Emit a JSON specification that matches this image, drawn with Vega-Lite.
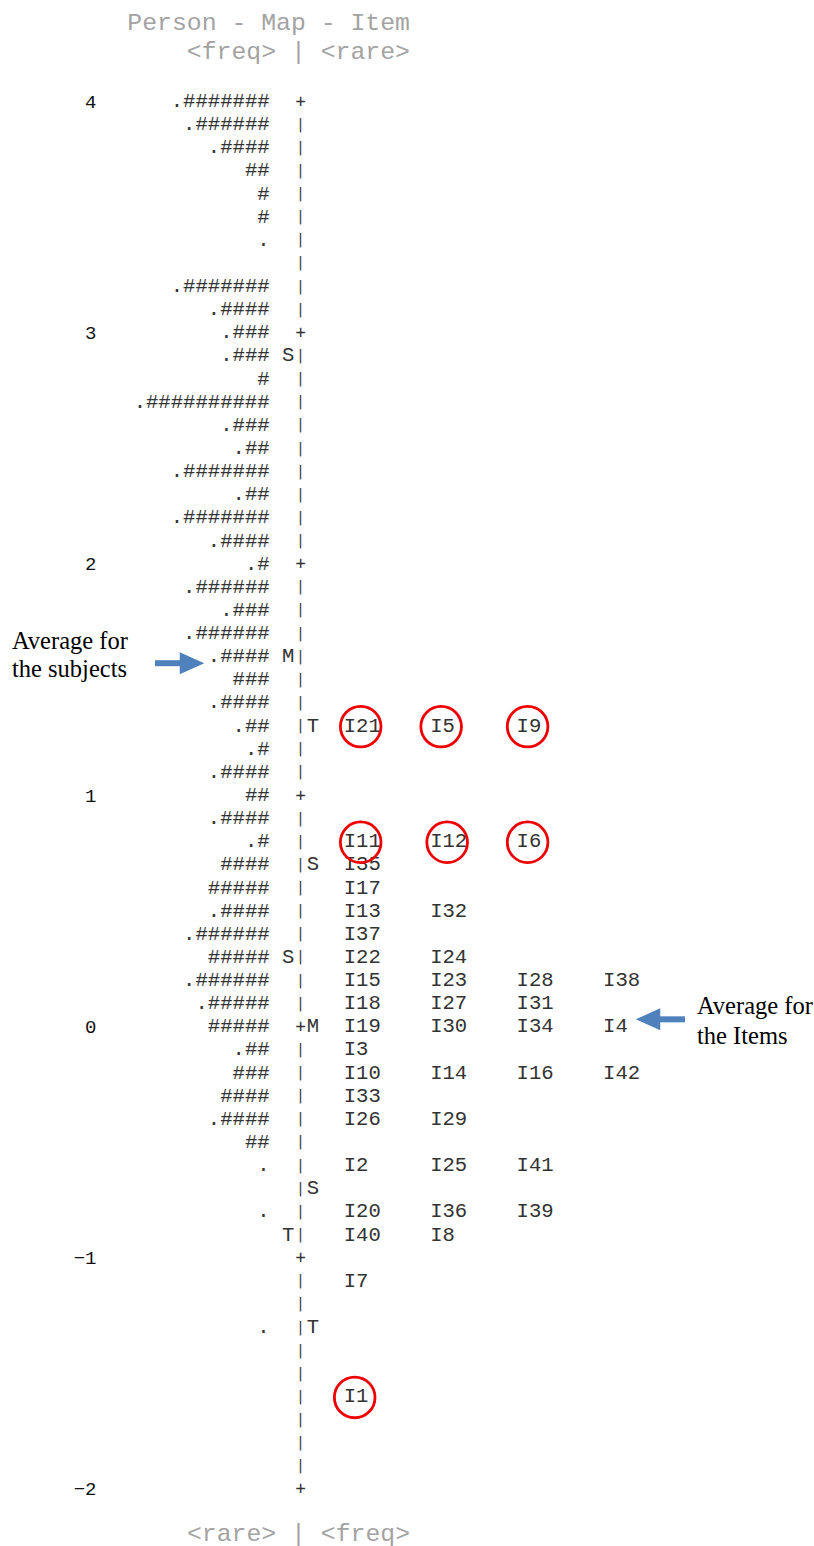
{
  "$schema": "https://vega.github.io/schema/vega-lite/v6.json",
  "width": 814,
  "height": 1430,
  "autosize": {"type": "none"},
  "padding": {"left": 0, "right": 0, "top": 80, "bottom": 36},
  "background": "white",
  "config": {
    "view": {"stroke": null},
    "axisX": {"domain": false, "ticks": false, "labels": false, "grid": false, "titleFont": "Liberation Mono", "titleFontSize": 24.8, "titleFontWeight": "normal", "titleColor": "#a3a3a3", "titleX": 298, "titleY": 23, "titleAlign": "center", "titleBaseline": "middle"}
  },
  "title": {"text": "Person - Map - Item", "subtitle": "<freq> | <rare>", "anchor": "end", "frame": "group", "dx": -404, "offset": 16, "font": "Liberation Mono", "fontSize": 24.8, "fontWeight": "normal", "color": "#a3a3a3", "subtitleFont": "Liberation Mono", "subtitleFontSize": 24.8, "subtitleColor": "#a3a3a3", "subtitlePadding": 4},
  "datasets": {
    "persons": [
      {"m": 4, "p": ".#######"}, {"m": 3.9, "p": ".######"}, {"m": 3.8, "p": ".####"}, {"m": 3.7, "p": "##"}, {"m": 3.6, "p": "#"}, {"m": 3.5, "p": "#"}, {"m": 3.4, "p": "."},
      {"m": 3.2, "p": ".#######"}, {"m": 3.1, "p": ".####"}, {"m": 3, "p": ".###"}, {"m": 2.9, "p": ".###"}, {"m": 2.8, "p": "#"}, {"m": 2.7, "p": ".##########"}, {"m": 2.6, "p": ".###"}, {"m": 2.5, "p": ".##"}, {"m": 2.4, "p": ".#######"}, {"m": 2.3, "p": ".##"}, {"m": 2.2, "p": ".#######"}, {"m": 2.1, "p": ".####"},
      {"m": 2, "p": ".#"}, {"m": 1.9, "p": ".######"}, {"m": 1.8, "p": ".###"}, {"m": 1.7, "p": ".######"}, {"m": 1.6, "p": ".####"}, {"m": 1.5, "p": "###"}, {"m": 1.4, "p": ".####"}, {"m": 1.3, "p": ".##"}, {"m": 1.2, "p": ".#"}, {"m": 1.1, "p": ".####"},
      {"m": 1, "p": "##"}, {"m": 0.9, "p": ".####"}, {"m": 0.8, "p": ".#"}, {"m": 0.7, "p": "####"}, {"m": 0.6, "p": "#####"}, {"m": 0.5, "p": ".####"}, {"m": 0.4, "p": ".######"}, {"m": 0.3, "p": "#####"}, {"m": 0.2, "p": ".######"}, {"m": 0.1, "p": ".#####"},
      {"m": 0, "p": "#####"}, {"m": -0.1, "p": ".##"}, {"m": -0.2, "p": "###"}, {"m": -0.3, "p": "####"}, {"m": -0.4, "p": ".####"}, {"m": -0.5, "p": "##"}, {"m": -0.6, "p": "."}, {"m": -0.8, "p": "."}, {"m": -1.3, "p": "."}
    ],
    "markers": [
      {"m": 2.9, "side": "L", "g": "S"}, {"m": 1.6, "side": "L", "g": "M"}, {"m": 1.3, "side": "R", "g": "T"}, {"m": 0.7, "side": "R", "g": "S"}, {"m": 0.3, "side": "L", "g": "S"},
      {"m": 0, "side": "R", "g": "M"}, {"m": -0.7, "side": "R", "g": "S"}, {"m": -0.9, "side": "L", "g": "T"}, {"m": -1.3, "side": "R", "g": "T"}
    ],
    "items": [
      {"m": 1.3, "slot": 0, "label": "I21", "circled": true}, {"m": 1.3, "slot": 1, "label": "I5", "circled": true}, {"m": 1.3, "slot": 2, "label": "I9", "circled": true},
      {"m": 0.8, "slot": 0, "label": "I11", "circled": true}, {"m": 0.8, "slot": 1, "label": "I12", "circled": true}, {"m": 0.8, "slot": 2, "label": "I6", "circled": true},
      {"m": 0.7, "slot": 0, "label": "I35"},
      {"m": 0.6, "slot": 0, "label": "I17"},
      {"m": 0.5, "slot": 0, "label": "I13"}, {"m": 0.5, "slot": 1, "label": "I32"},
      {"m": 0.4, "slot": 0, "label": "I37"},
      {"m": 0.3, "slot": 0, "label": "I22"}, {"m": 0.3, "slot": 1, "label": "I24"},
      {"m": 0.2, "slot": 0, "label": "I15"}, {"m": 0.2, "slot": 1, "label": "I23"}, {"m": 0.2, "slot": 2, "label": "I28"}, {"m": 0.2, "slot": 3, "label": "I38"},
      {"m": 0.1, "slot": 0, "label": "I18"}, {"m": 0.1, "slot": 1, "label": "I27"}, {"m": 0.1, "slot": 2, "label": "I31"},
      {"m": 0, "slot": 0, "label": "I19"}, {"m": 0, "slot": 1, "label": "I30"}, {"m": 0, "slot": 2, "label": "I34"}, {"m": 0, "slot": 3, "label": "I4"},
      {"m": -0.1, "slot": 0, "label": "I3"},
      {"m": -0.2, "slot": 0, "label": "I10"}, {"m": -0.2, "slot": 1, "label": "I14"}, {"m": -0.2, "slot": 2, "label": "I16"}, {"m": -0.2, "slot": 3, "label": "I42"},
      {"m": -0.3, "slot": 0, "label": "I33"},
      {"m": -0.4, "slot": 0, "label": "I26"}, {"m": -0.4, "slot": 1, "label": "I29"},
      {"m": -0.6, "slot": 0, "label": "I2"}, {"m": -0.6, "slot": 1, "label": "I25"}, {"m": -0.6, "slot": 2, "label": "I41"},
      {"m": -0.8, "slot": 0, "label": "I20"}, {"m": -0.8, "slot": 1, "label": "I36"}, {"m": -0.8, "slot": 2, "label": "I39"},
      {"m": -0.9, "slot": 0, "label": "I40"}, {"m": -0.9, "slot": 1, "label": "I8"},
      {"m": -1.1, "slot": 0, "label": "I7"},
      {"m": -1.6, "slot": 0, "label": "I1", "circled": true}
    ],
    "notes": [
      {"m": 1.6, "who": "persons", "note": "Average for\nthe subjects"},
      {"m": 0, "who": "items", "note": "Average for\nthe Items"}
    ]
  },
  "resolve": {"axis": {"y": "independent"}},
  "layer": [
    {
      "encoding": {
        "y": {"field": "m", "type": "quantitative", "title": null, "scale": {"domain": [-2.0908, 4.0908], "nice": false, "zero": false},
              "axis": {"orient": "left", "offset": -96, "values": [-2, -1, 0, 1, 2, 3, 4], "domain": false, "ticks": false, "tickSize": 0, "grid": false, "labelPadding": 0, "labelFont": "Liberation Mono", "labelFontSize": 19, "labelColor": "#111111", "labelBaseline": "middle", "labelOverlap": false, "labelBound": false, "labelFlush": false}}
      },
      "layer": [
        {
          "data": {"name": "persons"},
          "mark": {"type": "text", "align": "right", "baseline": "middle", "font": "Liberation Mono", "fontSize": 20.6, "color": "#333333"},
          "encoding": {
            "x": {"datum": -0.8571, "type": "quantitative", "title": "<rare> | <freq>", "scale": {"domain": [-3.9757, 5.4402], "nice": false, "zero": false}},
            "text": {"field": "p", "type": "nominal"}
          }
        },
        {
          "data": {"name": "markers"},
          "transform": [{"filter": "datum.side === 'L'"}],
          "mark": {"type": "text", "align": "center", "baseline": "middle", "font": "Liberation Mono", "fontSize": 20.6, "color": "#333333"},
          "encoding": {
            "x": {"datum": -0.6426, "type": "quantitative", "title": "<rare> | <freq>", "scale": {"domain": [-3.9757, 5.4402], "nice": false, "zero": false}},
            "text": {"field": "g", "type": "nominal"}
          }
        },
        {
          "data": {"name": "markers"},
          "transform": [{"filter": "datum.side === 'R'"}],
          "mark": {"type": "text", "align": "center", "baseline": "middle", "font": "Liberation Mono", "fontSize": 20.6, "color": "#333333"},
          "encoding": {
            "x": {"datum": -0.3569, "type": "quantitative", "title": "<rare> | <freq>", "scale": {"domain": [-3.9757, 5.4402], "nice": false, "zero": false}},
            "text": {"field": "g", "type": "nominal"}
          }
        },
        {
          "data": {"name": "items"},
          "mark": {"type": "text", "align": "left", "baseline": "middle", "font": "Liberation Mono", "fontSize": 20.6, "color": "#333333"},
          "encoding": {
            "x": {"field": "slot", "type": "quantitative", "title": "<rare> | <freq>", "scale": {"domain": [-3.9757, 5.4402], "nice": false, "zero": false}},
            "text": {"field": "label", "type": "nominal"}
          }
        },
        {
          "data": {"name": "items"},
          "transform": [{"filter": "datum.circled && length(datum.label) === 3"}],
          "mark": {"type": "point", "shape": "circle", "filled": false, "size": 1650, "stroke": "#ee0000", "strokeWidth": 2.8, "opacity": 1, "xOffset": 17, "yOffset": 1},
          "encoding": {
            "x": {"field": "slot", "type": "quantitative", "title": "<rare> | <freq>", "scale": {"domain": [-3.9757, 5.4402], "nice": false, "zero": false}}
          }
        },
        {
          "data": {"name": "items"},
          "transform": [{"filter": "datum.circled && length(datum.label) === 2"}],
          "mark": {"type": "point", "shape": "circle", "filled": false, "size": 1650, "stroke": "#ee0000", "strokeWidth": 2.8, "opacity": 1, "xOffset": 11, "yOffset": 1},
          "encoding": {
            "x": {"field": "slot", "type": "quantitative", "title": "<rare> | <freq>", "scale": {"domain": [-3.9757, 5.4402], "nice": false, "zero": false}}
          }
        },
        {
          "data": {"name": "notes"},
          "transform": [{"filter": "datum.who === 'persons'"}],
          "mark": {"type": "text", "align": "left", "baseline": "middle", "lineBreak": "\n", "lineHeight": 28, "font": "Liberation Serif", "fontSize": 24.5, "color": "#000000", "dy": -14},
          "encoding": {
            "x": {"datum": -3.8369, "type": "quantitative", "title": "<rare> | <freq>", "scale": {"domain": [-3.9757, 5.4402], "nice": false, "zero": false}},
            "text": {"field": "note", "type": "nominal"}
          }
        },
        {
          "data": {"name": "notes"},
          "transform": [{"filter": "datum.who === 'persons'"}],
          "mark": {"type": "rule", "strokeWidth": 6, "color": "#4f81bd", "yOffset": 7},
          "encoding": {
            "x": {"datum": -2.1828, "type": "quantitative", "title": "<rare> | <freq>", "scale": {"domain": [-3.9757, 5.4402], "nice": false, "zero": false}},
            "x2": {"datum": -1.8358}
          }
        },
        {
          "data": {"name": "notes"},
          "transform": [{"filter": "datum.who === 'persons'"}],
          "mark": {"type": "point", "shape": "M-1,-0.9L1,0L-1,0.9Z", "size": 600, "filled": true, "color": "#4f81bd", "opacity": 1, "strokeWidth": 0, "yOffset": 7},
          "encoding": {
            "x": {"datum": -1.7548, "type": "quantitative", "title": "<rare> | <freq>", "scale": {"domain": [-3.9757, 5.4402], "nice": false, "zero": false}}
          }
        },
        {
          "data": {"name": "notes"},
          "transform": [{"filter": "datum.who === 'items'"}],
          "mark": {"type": "text", "align": "left", "baseline": "middle", "lineBreak": "\n", "lineHeight": 30, "font": "Liberation Serif", "fontSize": 24.5, "color": "#000000", "dy": -19},
          "encoding": {
            "x": {"datum": 4.0867, "type": "quantitative", "title": "<rare> | <freq>", "scale": {"domain": [-3.9757, 5.4402], "nice": false, "zero": false}},
            "text": {"field": "note", "type": "nominal"}
          }
        },
        {
          "data": {"name": "notes"},
          "transform": [{"filter": "datum.who === 'items'"}],
          "mark": {"type": "rule", "strokeWidth": 6, "color": "#4f81bd", "yOffset": -7},
          "encoding": {
            "x": {"datum": 3.6009, "type": "quantitative", "title": "<rare> | <freq>", "scale": {"domain": [-3.9757, 5.4402], "nice": false, "zero": false}},
            "x2": {"datum": 3.9479}
          }
        },
        {
          "data": {"name": "notes"},
          "transform": [{"filter": "datum.who === 'items'"}],
          "mark": {"type": "point", "shape": "M1,-0.9L-1,0L1,0.9Z", "size": 600, "filled": true, "color": "#4f81bd", "opacity": 1, "strokeWidth": 0, "yOffset": -7},
          "encoding": {
            "x": {"datum": 3.52, "type": "quantitative", "title": "<rare> | <freq>", "scale": {"domain": [-3.9757, 5.4402], "nice": false, "zero": false}}
          }
        }
      ]
    },
    {
      "data": {"name": "persons"},
      "mark": {"type": "point", "opacity": 0},
      "encoding": {
        "y": {"field": "m", "type": "quantitative", "title": null, "scale": {"domain": [-2.0908, 4.0908], "nice": false, "zero": false},
              "axis": {"orient": "right", "offset": -514, "values": [4, 3.9, 3.8, 3.7, 3.6, 3.5, 3.4, 3.3, 3.2, 3.1, 3, 2.9, 2.8, 2.7, 2.6, 2.5, 2.4, 2.3, 2.2, 2.1, 2, 1.9, 1.8, 1.7, 1.6, 1.5, 1.4, 1.3, 1.2, 1.1, 1, 0.9, 0.8, 0.7, 0.6, 0.5, 0.4, 0.3, 0.2, 0.1, 0, -0.1, -0.2, -0.3, -0.4, -0.5, -0.6, -0.7, -0.8, -0.9, -1, -1.1, -1.2, -1.3, -1.4, -1.5, -1.6, -1.7, -1.8, -1.9, -2],
                       "labelExpr": "datum.value % 1 === 0 ? '+' : '|'", "domain": false, "ticks": false, "tickSize": 0, "grid": false, "labelPadding": 0, "labelAlign": "center", "labelBaseline": "middle", "labelFont": "DejaVu Sans Mono",
                       "labelFontSize": {"condition": {"test": "datum.value % 1 === 0", "value": 17}, "value": 14}, "labelColor": "#333333", "labelOverlap": false, "labelBound": false, "labelFlush": false}}
      }
    }
  ]
}
